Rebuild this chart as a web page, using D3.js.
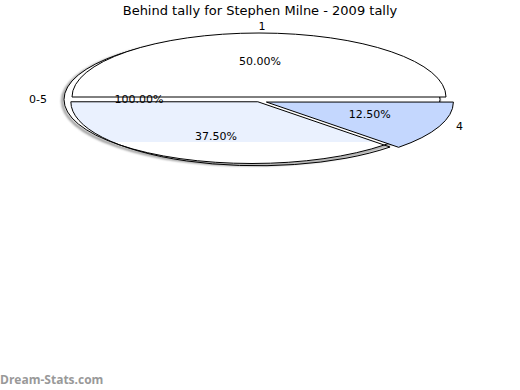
<!DOCTYPE html>
<html>
<head>
<meta charset="utf-8">
<title>Behind tally</title>
<script src="https://d3js.org/d3.v7.min.js"></script>
<style>
    body { margin: 0; background: #fff; }
    svg { display: block; font-family: "DejaVu Sans", sans-serif; }
</style>
</head>
<body>
<svg width="520" height="390"></svg>
<script>
// slices in drawing order, clockwise from the left edge
const sliceNames = ["1", "4", "3"];
const slicePercents = [50, 12.5, 37.5];
const sliceLabels = ["1", "4", ""];
const pctLabels = ["50.00%", "12.50%", "37.50%"];
const sliceColors = ["#ffffff", "#c4d7fe", "#eaf1fe"];
const explode = [2, 8, 3];

// the whole-total slice drawn behind
const totalName = "0-5";
const totalPct = "100.00%";

const svg = d3.select("svg");
const rx = 187, ry = 64;
const cx = 259, cy = 99;

svg.append("text")
    .attr("x", 260).attr("y", 15)
    .attr("text-anchor", "middle")
    .style("font-size", "13px")
    .text("Behind tally for Stephen Milne - 2009 tally");

const defs = svg.append("defs");
defs.append("filter").attr("id", "blur")
    .append("feGaussianBlur").attr("stdDeviation", 0.8);
defs.append("clipPath").attr("id", "cut")
    .append("rect").attr("x", 0).attr("y", 0).attr("width", 520).attr("height", 142);

// total slice (full ellipse) with shadow
const tot = svg.append("g");
tot.append("ellipse")
    .attr("cx", 250.8).attr("cy", 101).attr("rx", 188.5).attr("ry", 64)
    .attr("fill", "none").attr("stroke", "#8a8a8a").attr("stroke-width", 2.2)
    .attr("filter", "url(#blur)");
tot.append("ellipse")
    .attr("cx", 252).attr("cy", 99.5).attr("rx", 188).attr("ry", 64)
    .attr("fill", "#fff").attr("stroke", "#000").attr("stroke-width", 1);

const pie = d3.pie().sort(null)
    .startAngle(-Math.PI / 2).endAngle(3 * Math.PI / 2);
const arcs = pie(slicePercents);
const arc = d3.arc().innerRadius(0).outerRadius(1);

arcs.forEach((a, i) => {
    const mid = (a.startAngle + a.endAngle) / 2;
    const ox = cx + Math.sin(mid) * explode[i];
    const oy = cy - Math.cos(mid) * explode[i];
    // fill; the 37.5% slice fill is cut off flat near the bottom in the original
    const fg = svg.append("g");
    if (i === 2) fg.attr("clip-path", "url(#cut)");
    fg.append("path")
        .attr("transform", `translate(${ox},${oy}) scale(${rx},${ry})`)
        .attr("d", arc(a)).attr("fill", sliceColors[i]);
    svg.append("path")
        .attr("transform", `translate(${ox},${oy}) scale(${rx},${ry})`)
        .attr("d", arc(a))
        .attr("fill", "none").attr("stroke", "#000")
        .attr("stroke-width", 1).attr("vector-effect", "non-scaling-stroke")
        .attr("stroke-linejoin", "round");
});

// percent labels inside slices
const pctDx = [1, 7, 0], pctDy = [0, 0, 2];
arcs.forEach((a, i) => {
    const mid = (a.startAngle + a.endAngle) / 2;
    svg.append("text")
        .attr("x", cx + Math.sin(mid) * rx * 0.6 + pctDx[i])
        .attr("y", cy - Math.cos(mid) * ry * 0.6 + 4 + pctDy[i])
        .attr("text-anchor", "middle")
        .style("font-size", "11px")
        .text(pctLabels[i]);
});
svg.append("text").attr("x", 139).attr("y", 103)
    .attr("text-anchor", "middle").style("font-size", "11px").text(totalPct);

// name labels outside
const nameDx = [3, 11];
arcs.forEach((a, i) => {
    if (!sliceLabels[i]) return;
    const mid = (a.startAngle + a.endAngle) / 2;
    svg.append("text")
        .attr("x", cx + Math.sin(mid) * (rx + 18) + nameDx[i])
        .attr("y", cy - Math.cos(mid) * (ry + 8) + 3)
        .attr("text-anchor", "middle")
        .style("font-size", "11px")
        .text(sliceLabels[i]);
});
svg.append("text").attr("x", 38).attr("y", 103)
    .attr("text-anchor", "middle").style("font-size", "11px").text(totalName);

svg.append("text")
    .attr("x", 0).attr("y", 384)
    .attr("fill", "#999")
    .style("font-size", "12px").style("font-weight", "bold")
    .style("font-family", "'Open Sans', sans-serif")
    .text("Dream-Stats.com");
</script>
</body>
</html>
